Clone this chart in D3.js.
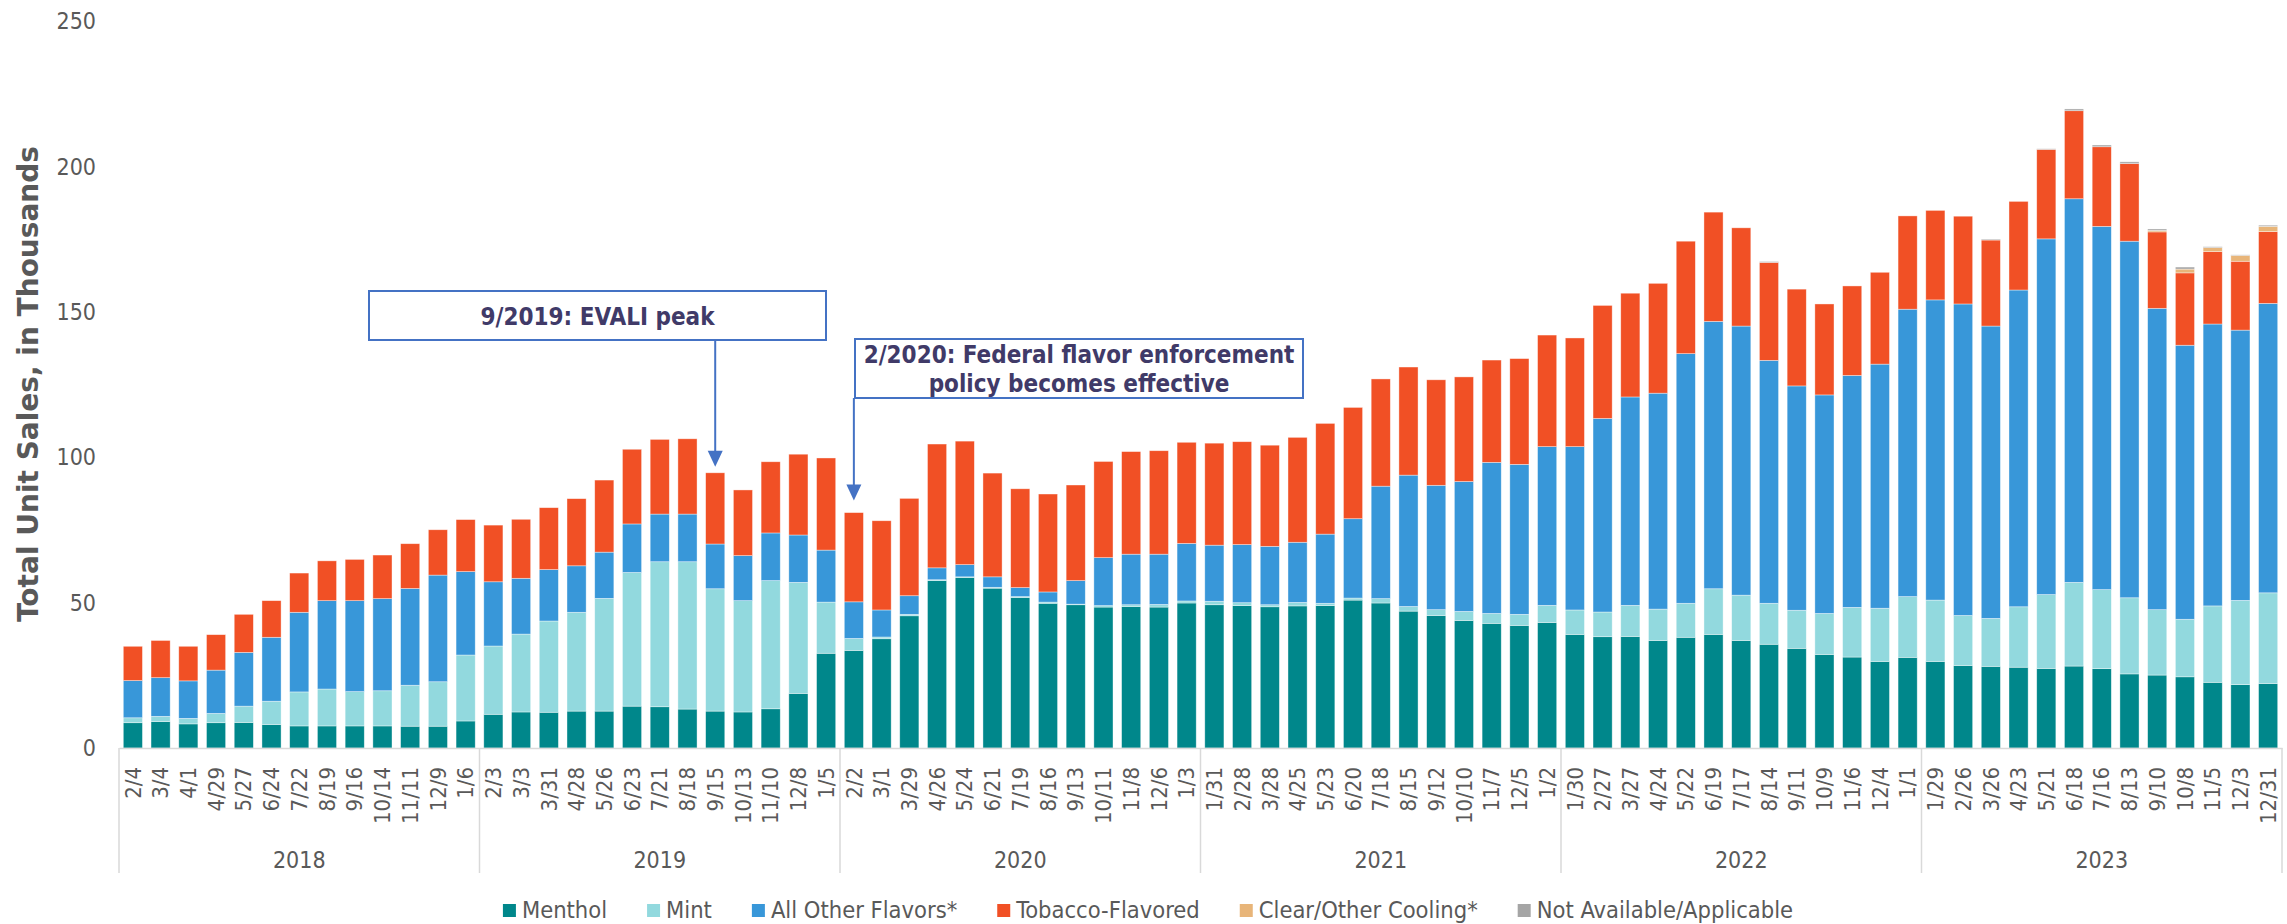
<!DOCTYPE html>
<html>
<head>
<meta charset="utf-8">
<script src="https://cdn.jsdelivr.net/npm/d3@7"></script>
<style>
  body { margin: 0; background: #fff; }
  svg { display: block; }
</style>
</head>
<body>
<div id="chart"></div>
<script>
// 4-week periods, grouped by year (13 per year)
var periods = ["2/4","3/4","4/1","4/29","5/27","6/24","7/22","8/19","9/16","10/14","11/11","12/9","1/6",
  "2/3","3/3","3/31","4/28","5/26","6/23","7/21","8/18","9/15","10/13","11/10","12/8","1/5",
  "2/2","3/1","3/29","4/26","5/24","6/21","7/19","8/16","9/13","10/11","11/8","12/6","1/3",
  "1/31","2/28","3/28","4/25","5/23","6/20","7/18","8/15","9/12","10/10","11/7","12/5","1/2",
  "1/30","2/27","3/27","4/24","5/22","6/19","7/17","8/14","9/11","10/9","11/6","12/4","1/1",
  "1/29","2/26","3/26","4/23","5/21","6/18","7/16","8/13","9/10","10/8","11/5","12/3","12/31"];
var years = ["2018", "2019", "2020", "2021", "2022", "2023"];
var yearCounts = [13, 13, 13, 13, 13, 13];

// unit sales, thousands
var menthol = [8.7,9.1,8.3,8.7,8.8,8.1,7.6,7.6,7.6,7.6,7.5,7.5,9.3,
  11.6,12.4,12.3,12.7,12.7,14.4,14.2,13.4,12.7,12.4,13.5,18.8,32.6,
  33.6,37.6,45.5,57.6,58.7,55.0,51.8,49.8,49.3,48.5,48.7,48.5,49.9,
  49.3,49.0,48.6,48.9,49.0,50.9,49.9,47.1,45.6,43.9,42.9,42.2,43.2,
  39.1,38.3,38.4,37.0,38.1,39.1,37.0,35.7,34.3,32.2,31.3,29.8,31.2,
  29.8,28.4,28.1,27.8,27.4,28.2,27.3,25.5,25.1,24.5,22.6,21.8,22.2];
var mint = [1.7,1.8,1.9,3.2,5.6,8.0,11.7,12.7,11.8,12.1,14.1,15.3,22.7,
  23.5,26.8,31.4,34.0,38.8,46.0,49.9,50.7,42.1,38.3,44.1,38.2,17.6,
  4.1,0.6,0.5,0.3,0.2,0.3,0.3,0.4,0.2,0.5,0.6,0.9,0.7,
  1.2,1.0,0.7,1.2,0.8,0.7,1.5,1.6,2.0,3.1,3.4,3.8,5.9,
  8.4,8.5,10.7,10.8,11.7,15.7,15.6,14.1,13.1,14.1,17.1,18.3,20.9,
  21.1,17.2,16.5,20.8,25.4,28.8,27.2,26.2,22.5,19.8,26.3,29.0,31.2];
var otherFlavors = [12.8,13.3,12.9,14.9,18.5,22.0,27.4,30.4,31.3,31.7,33.3,36.7,28.7,
  22.1,19.2,17.7,16.0,15.9,16.7,16.4,16.4,15.4,15.5,16.4,16.3,17.9,
  12.6,9.3,6.4,4.1,4.2,3.6,3.1,3.5,8.1,16.5,17.4,17.3,19.8,
  19.3,20.0,20.1,20.7,23.8,27.3,38.7,45.2,42.8,44.7,52.0,51.6,54.6,
  56.2,66.6,71.7,74.3,85.9,92.0,92.6,83.6,77.2,75.2,79.8,84.0,98.9,
  103.3,107.2,100.6,109.0,122.4,132.0,125.0,122.7,103.7,94.3,97.0,93.0,99.6];
var tobacco = [11.8,12.8,11.9,12.2,13.1,12.6,13.5,13.7,14.2,15.0,15.4,15.6,17.9,
  19.5,20.3,21.3,23.1,24.8,25.7,25.7,25.9,24.5,22.6,24.5,27.8,31.7,
  30.7,30.7,33.5,42.6,42.5,35.7,34.0,33.7,32.9,33.1,35.3,35.6,34.8,
  35.1,35.4,34.8,36.1,38.1,38.3,36.9,37.2,36.3,36.0,35.2,36.4,38.4,
  37.4,38.9,35.7,37.8,38.7,37.6,33.8,33.7,33.3,31.3,30.8,31.6,32.1,
  30.8,30.2,29.6,30.5,30.8,30.3,27.4,26.7,26.3,24.9,24.9,23.7,24.7];
var clearCooling = [0,0,0,0,0,0,0,0,0,0,0,0,0,
  0,0,0,0,0,0,0,0,0,0,0,0,0,
  0,0,0,0,0,0,0,0,0,0,0,0,0,
  0,0,0,0,0,0,0,0,0,0,0,0,0,
  0,0,0,0,0,0,0,0,0,0,0,0,0,
  0,0,0,0,0,0,0,0,0.5,1.3,1.4,2.0,1.8];
var notAvailable = [0,0,0,0,0,0,0,0,0,0,0,0,0,
  0,0,0,0,0,0,0,0,0,0,0,0,0,
  0,0,0,0,0,0,0,0,0,0,0,0,0,
  0,0,0,0,0,0,0,0,0,0,0,0,0,
  0,0,0,0,0,0,0,0.3,0,0,0,0,0,
  0,0,0.3,0,0.2,0.6,0.6,0.6,0.5,0.7,0.3,0.2,0.4];

var seriesNames = ["Menthol", "Mint", "All Other Flavors*", "Tobacco-Flavored", "Clear/Other Cooling*", "Not Available/Applicable"];
var seriesValues = [menthol, mint, otherFlavors, tobacco, clearCooling, notAvailable];
var seriesColors = ["#00878B", "#92D9DE", "#3897D9", "#F15025", "#E8B579", "#A5A5A5"];
var yTicks = [0, 50, 100, 150, 200, 250];

var annotations = [
  { lines: ["9/2019: EVALI peak"], period: 21, box: [369, 291, 457, 49], gap: 6 },
  { lines: ["2/2020: Federal flavor enforcement", "policy becomes effective"], period: 26, box: [855, 339, 448, 59], gap: 12 }
];

var FONT = "'DejaVu Sans Condensed', 'DejaVu Sans', sans-serif";
var W = 2287, H = 924;
var margin = { left: 119, right: 5, top: 21.5, bottom: 176 };
var axisY = H - margin.bottom;

var rows = periods.map(function (p, i) {
  var r = { idx: i, label: p };
  seriesNames.forEach(function (s, k) { r[s] = seriesValues[k][i]; });
  return r;
});

var svg = d3.select("#chart").append("svg")
  .attr("width", W)
  .attr("height", H)
  .style("font-family", FONT)
  .style("font-stretch", "condensed");

var x = d3.scaleBand()
  .domain(d3.range(periods.length))
  .range([margin.left, W - margin.right])
  .paddingInner(0.31)
  .paddingOuter(0.155);

var y = d3.scaleLinear()
  .domain([0, 250])
  .range([axisY, margin.top]);

var stack = d3.stack().keys(seriesNames);
var layers = stack(rows);

// bars
svg.append("g")
  .selectAll("g")
  .data(layers)
  .enter().append("g")
  .attr("fill", function (d, k) { return seriesColors[k]; })
  .selectAll("rect")
  .data(function (d) { return d; })
  .enter().append("rect")
  .attr("x", function (d) { return x(d.data.idx); })
  .attr("y", function (d) { return y(d[1]); })
  .attr("width", x.bandwidth())
  .attr("height", function (d) { return Math.max(0, y(d[0]) - y(d[1])); })
  .attr("stroke", "#fff")
  .attr("stroke-opacity", 0.55)
  .attr("stroke-width", 0.7);

// y axis labels (no line)
var yAxis = svg.append("g")
  .attr("transform", "translate(" + 96 + ",0)")
  .call(d3.axisLeft(y).tickValues(yTicks).tickSize(0).tickPadding(0));
yAxis.select(".domain").remove();
yAxis.selectAll("text")
  .style("font-family", FONT)
  .style("font-size", "23px")
  .attr("fill", "#595959");

svg.append("text")
  .attr("transform", "translate(38," + 384 + ") rotate(-90)")
  .attr("text-anchor", "middle")
  .style("font-family", "'DejaVu Sans', sans-serif")
  .style("font-stretch", "normal")
  .style("font-weight", "bold")
  .style("font-size", "28px")
  .attr("fill", "#595959")
  .text("Total Unit Sales, in Thousands");

// x axis with period labels
var xAxis = svg.append("g")
  .attr("transform", "translate(0," + axisY + ")")
  .call(d3.axisBottom(x).tickSize(0).tickFormat(function (i) { return periods[i]; }));
xAxis.select(".domain").attr("stroke", "#d9d9d9").attr("stroke-width", 1.5);
xAxis.selectAll("text")
  .style("font-family", FONT)
  .style("font-size", "22px")
  .attr("fill", "#595959")
  .attr("text-anchor", "end")
  .attr("transform", "rotate(-90)")
  .attr("x", -19)
  .attr("y", 0)
  .attr("dy", "0.35em");

// year groups
var starts = [];
var acc = 0;
yearCounts.forEach(function (c) { starts.push(acc); acc += c; });
var step = x.step();
var groupEdge = function (i) { return margin.left + i * step; };

svg.append("g")
  .selectAll("line")
  .data(starts.concat([periods.length]))
  .enter().append("line")
  .attr("x1", function (d) { return groupEdge(d); })
  .attr("x2", function (d) { return groupEdge(d); })
  .attr("y1", axisY)
  .attr("y2", axisY + 125)
  .attr("stroke", "#d9d9d9")
  .attr("stroke-width", 1.5);

svg.append("g")
  .selectAll("text")
  .data(years)
  .enter().append("text")
  .attr("x", function (d, i) { return groupEdge(starts[i] + yearCounts[i] / 2); })
  .attr("y", axisY + 120)
  .attr("text-anchor", "middle")
  .style("font-size", "23px")
  .attr("fill", "#595959")
  .text(function (d) { return d; });

// annotations
var ann = svg.append("g");
annotations.forEach(function (a) {
  var b = a.box;
  var ax = x(a.period) + x.bandwidth() / 2;
  var total = d3.sum(seriesValues, function (s) { return s[a.period]; });
  var tip = y(total) - a.gap;
  ann.append("line")
    .attr("x1", ax).attr("x2", ax)
    .attr("y1", b[1] + b[3]).attr("y2", tip - 14)
    .attr("stroke", "#4472C4").attr("stroke-width", 2);
  ann.append("path")
    .attr("d", "M" + (ax - 7.5) + "," + (tip - 16) + "L" + (ax + 7.5) + "," + (tip - 16) + "L" + ax + "," + tip + "Z")
    .attr("fill", "#4472C4");
  ann.append("rect")
    .attr("x", b[0]).attr("y", b[1])
    .attr("width", b[2]).attr("height", b[3])
    .attr("fill", "#fff")
    .attr("stroke", "#4472C4").attr("stroke-width", 2);
  var t = ann.append("text")
    .attr("text-anchor", "middle")
    .style("font-weight", "bold")
    .style("font-size", "24px")
    .attr("fill", "#403A68");
  a.lines.forEach(function (ln, j) {
    t.append("tspan")
      .attr("x", b[0] + b[2] / 2)
      .attr("y", a.lines.length === 1 ? b[1] + 34 : b[1] + 24 + j * 29)
      .text(ln);
  });
});

// legend
var legend = svg.append("g");
var lx = 0;
seriesNames.forEach(function (s, k) {
  var g = legend.append("g").attr("transform", "translate(" + lx + ",0)");
  g.append("rect")
    .attr("x", 0).attr("y", 904)
    .attr("width", 13).attr("height", 13)
    .attr("fill", seriesColors[k]);
  var t = g.append("text")
    .attr("x", 19).attr("y", 918)
    .style("font-size", "23.5px")
    .attr("fill", "#595959")
    .text(s);
  lx += 19 + t.node().getComputedTextLength() + 40;
});
lx -= 40;
legend.attr("transform", "translate(" + (1148 - lx / 2) + ",0)");
</script>
</body>
</html>
